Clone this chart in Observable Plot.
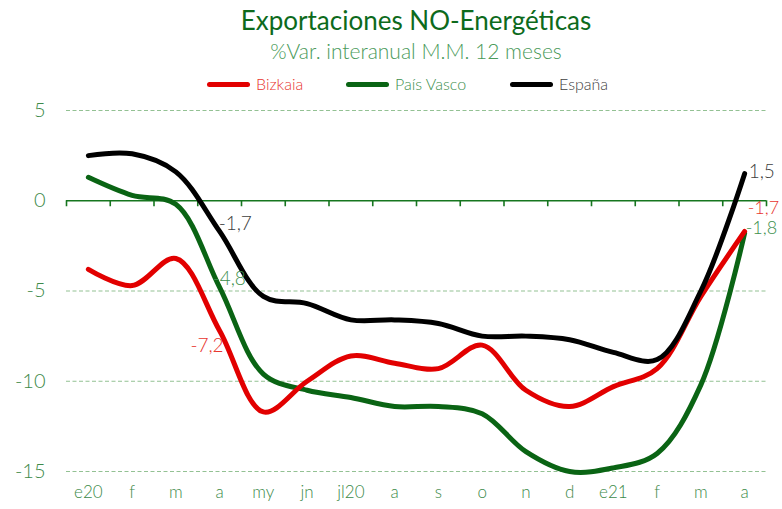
<!DOCTYPE html>
<html>
<head>
<meta charset="utf-8">
<script src="https://cdn.jsdelivr.net/npm/d3@7"></script>
<script src="https://cdn.jsdelivr.net/npm/@observablehq/plot@0.6"></script>
<style>
  body { margin: 0; background: #fff; font-family: Lato, "Open Sans", sans-serif; }
  #wrap { position: relative; width: 782px; height: 509px; overflow: hidden; }
  #head { position: relative; height: 98px; }
  .title { position: absolute; left: 0; width: 832px; text-align: center; top: 5px; font-size: 26px; line-height: 30px; color: #0d6a1c; }
  .sub { position: absolute; left: 0; width: 832px; text-align: center; top: 38px; font-size: 21px; line-height: 26px; color: #4a9a5a; font-weight: 300; }
  .lg { position: absolute; top: 73px; height: 22px; font-size: 16px; line-height: 22px; font-weight: 300; }
  .lg .sw { position: absolute; top: 9px; width: 43px; height: 5px; border-radius: 2.5px; }
  .lg .tx { position: absolute; left: 49px; top: 0; white-space: nowrap; }
</style>
</head>
<body>
<div id="wrap">
  <div id="head">
    <div class="title">Exportaciones NO-Energéticas</div>
    <div class="sub">%Var. interanual M.M. 12 meses</div>
    <div id="legend"></div>
  </div>
  <div id="chart"></div>
</div>
<script>
const months = ["e20","f","m","a","my","jn","jl20","a","s","o","n","d","e21","f","m","a"];
const bizkaia   = [-3.8,-4.7,-3.2,-7.2,-11.7,-10.0,-8.6,-9.0,-9.3,-8.0,-10.5,-11.4,-10.3,-9.3,-5.3,-1.7];
const paisVasco = [1.3,0.3,-0.2,-4.8,-9.6,-10.5,-10.9,-11.4,-11.4,-11.8,-13.9,-15.0,-14.8,-14.0,-10.2,-1.8];
const espana    = [2.5,2.6,1.6,-1.7,-5.3,-5.7,-6.6,-6.6,-6.8,-7.5,-7.5,-7.7,-8.4,-8.8,-5.0,1.5];
const seriesNames = ["Bizkaia","País Vasco","España"];
const yTicks = [5,0,-5,-10,-15];

const lineColors = {"Bizkaia":"#e20000","País Vasco":"#0a6414","España":"#000000"};
const textColors = {"Bizkaia":"#e8352f","País Vasco":"#3d8f4d","España":"#404040"};

const values = {"Bizkaia":bizkaia,"País Vasco":paisVasco,"España":espana};
const rows = [];
seriesNames.forEach(s => values[s].forEach((v,i) => rows.push({serie:s, i, y:v})));
const boundaries = d3.range(months.length + 1).map(i => i - 0.5);
const fmt = v => String(v).replace(".", ",");
const pt = (s, i) => rows.filter(d => d.serie === s && d.i === i);

// legend
const legendPos = {"Bizkaia":207,"País Vasco":346,"España":510};
const lg = document.getElementById("legend");
seriesNames.forEach(s => {
  const d = document.createElement("div");
  d.className = "lg";
  d.style.left = legendPos[s] + "px";
  d.innerHTML = `<span class="sw" style="background:${lineColors[s]}"></span><span class="tx" style="color:${textColors[s]}">${s}</span>`;
  lg.appendChild(d);
});

const labelStyle = {fontSize: 19, fontWeight: 300};
const chart = Plot.plot({
  width: 782, height: 411,
  marginLeft: 66, marginRight: 16, marginTop: 12, marginBottom: 38,
  x: {type: "linear", domain: [-0.5, months.length - 0.5], axis: null},
  y: {domain: [-15, 5], axis: null},
  style: {fontFamily: "Lato, 'Open Sans', sans-serif", background: "transparent", overflow: "visible"},
  marks: [
    Plot.ruleY(yTicks.filter(d => d !== 0), {y: d => d, stroke: "#93c193", strokeDasharray: "4,2.5", strokeWidth: 1.2}),
    Plot.ruleY([0], {y: d => d, stroke: "#16761f", strokeWidth: 1.6}),
    Plot.ruleX(boundaries, {x: d => d, y1: 0, y2: 0, insetBottom: -6, stroke: "#16761f", strokeWidth: 1.6}),
    Plot.text(yTicks, {y: d => d, text: d => String(d), frameAnchor: "left", textAnchor: "end", dx: -21, fill: "#3d8a4a", fontSize: 20, fontWeight: 300}),
    Plot.text(d3.range(months.length), {x: d => d, text: i => months[i], frameAnchor: "bottom", dy: 26, fill: "#3d8a4a", fontSize: 17, fontWeight: 300}),
    Plot.line(rows.filter(d => d.serie === "País Vasco"), {x: "i", y: "y", stroke: lineColors["País Vasco"], strokeWidth: 5, curve: "catmull-rom"}),
    Plot.line(rows.filter(d => d.serie === "Bizkaia"), {x: "i", y: "y", stroke: lineColors["Bizkaia"], strokeWidth: 5, curve: "catmull-rom"}),
    Plot.line(rows.filter(d => d.serie === "España"), {x: "i", y: "y", stroke: lineColors["España"], strokeWidth: 5, curve: "catmull-rom"}),
    Plot.text(pt("España", 3), {x: "i", y: "y", text: d => fmt(d.y), textAnchor: "start", dx: -1, dy: -8, fill: textColors["España"], ...labelStyle}),
    Plot.text(pt("País Vasco", 3), {x: "i", y: "y", text: d => fmt(d.y), textAnchor: "start", dx: -7, dy: -8, fill: textColors["País Vasco"], ...labelStyle}),
    Plot.text(pt("Bizkaia", 3), {x: "i", y: "y", text: d => fmt(d.y), textAnchor: "end", dx: 4, dy: 15, fill: textColors["Bizkaia"], ...labelStyle}),
    Plot.text(pt("España", 15), {x: "i", y: "y", text: d => fmt(d.y), textAnchor: "start", dx: 4, dy: -2, fill: textColors["España"], ...labelStyle}),
    Plot.text(pt("Bizkaia", 15), {x: "i", y: "y", text: d => fmt(d.y), textAnchor: "start", dx: 3, dy: -23, fill: textColors["Bizkaia"], fontSize: 18, fontWeight: 300}),
    Plot.text(pt("País Vasco", 15), {x: "i", y: "y", text: d => fmt(d.y), textAnchor: "start", dx: 1, dy: -5, fill: textColors["País Vasco"], fontSize: 18, fontWeight: 300})
  ]
});
document.getElementById("chart").appendChild(chart);
</script>
</body>
</html>
